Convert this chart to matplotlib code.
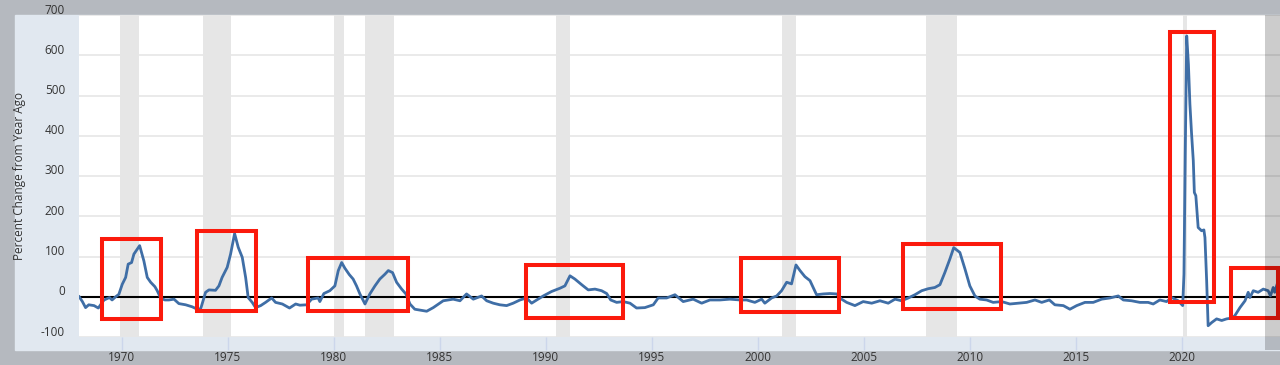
import matplotlib
matplotlib.use('Agg')
import matplotlib.pyplot as plt
from matplotlib.patches import Rectangle

plt.rcParams['font.family'] = ['Open Sans', 'DejaVu Sans']

# series (decimal year, percent change from year ago)
years = [1968.00, 1968.15, 1968.30, 1968.45, 1968.70, 1968.90, 1969.17, 1969.43, 1969.55, 1969.72,
         1969.87, 1970.03, 1970.19, 1970.31, 1970.47, 1970.58, 1970.85, 1971.05, 1971.21, 1971.37,
         1971.57, 1971.68, 1971.84, 1972.04, 1972.23, 1972.47, 1972.70, 1973.02, 1973.33, 1973.57,
         1973.73, 1973.96, 1974.12, 1974.43, 1974.59, 1974.74, 1974.98, 1975.14, 1975.33, 1975.50,
         1975.69, 1975.85, 1975.97, 1976.16, 1976.32, 1976.56, 1976.79, 1977.08, 1977.26, 1977.58,
         1977.92, 1978.21, 1978.41, 1978.73, 1978.96, 1979.27, 1979.35, 1979.54, 1979.82, 1980.06,
         1980.22, 1980.38, 1980.53, 1980.74, 1980.92, 1981.08, 1981.24, 1981.48, 1981.71, 1981.95,
         1982.18, 1982.42, 1982.58, 1982.78, 1982.97, 1983.21, 1983.41, 1983.60, 1983.83, 1984.39,
         1984.70, 1985.17, 1985.64, 1985.96, 1986.27, 1986.59, 1986.98, 1987.22, 1987.53, 1987.84,
         1988.16, 1988.47, 1988.79, 1989.10, 1989.34, 1989.58, 1989.89, 1990.28, 1990.67, 1990.91,
         1991.15, 1991.38, 1991.70, 1992.01, 1992.33, 1992.64, 1992.88, 1993.07, 1993.35, 1993.66,
         1993.98, 1994.29, 1994.68, 1995.08, 1995.31, 1995.71, 1996.10, 1996.49, 1996.96, 1997.36,
         1997.75, 1998.22, 1998.69, 1999.17, 1999.48, 1999.87, 2000.19, 2000.34, 2000.66, 2000.90,
         2001.13, 2001.37, 2001.60, 2001.81, 2002.00, 2002.23, 2002.47, 2002.62, 2002.78, 2003.10,
         2003.41, 2003.73, 2003.96, 2004.20, 2004.59, 2004.98, 2005.38, 2005.77, 2006.16, 2006.48,
         2006.79, 2007.11, 2007.42, 2007.74, 2008.05, 2008.36, 2008.60, 2008.83, 2009.07, 2009.25,
         2009.54, 2009.78, 2010.01, 2010.25, 2010.48, 2010.80, 2011.11, 2011.51, 2011.90, 2012.29,
         2012.69, 2013.08, 2013.40, 2013.76, 2014.02, 2014.42, 2014.73, 2015.05, 2015.44, 2015.83,
         2016.23, 2016.62, 2017.01, 2017.25, 2017.64, 2018.03, 2018.42, 2018.66, 2018.97, 2019.29,
         2019.53, 2019.84, 2020.05, 2020.11, 2020.17, 2020.24, 2020.32, 2020.39, 2020.47, 2020.55,
         2020.60, 2020.67, 2020.78, 2020.94, 2021.05, 2021.10, 2021.18, 2021.25, 2021.42, 2021.65,
         2021.89, 2022.12, 2022.36, 2022.51, 2022.75, 2022.99, 2023.14, 2023.22, 2023.38, 2023.61,
         2023.85, 2024.08, 2024.19, 2024.32, 2024.39, 2024.51, 2024.63]
pct_change = [0, -12, -27, -20, -22, -28, -8, -2, -8, 0,
              6, 31, 48, 81, 85, 106, 127, 89, 48, 36,
              25, 15, -3, -8, -8, -6, -17, -20, -25, -31,
              -30, 11, 17, 16, 27, 48, 73, 106, 157, 123,
              98, 48, -2, -14, -27, -22, -14, -3, -14, -18,
              -28, -18, -21, -20, -6, -3, -12, 8, 15, 27,
              65, 85, 71, 55, 44, 27, 7, -18, 7, 27,
              44, 56, 65, 60, 36, 19, 7, -18, -31, -36,
              -27, -10, -6, -10, 7, -6, 2, -10, -16, -20,
              -22, -16, -8, -3, -16, -8, 2, 13, 21, 27,
              52, 44, 30, 17, 19, 15, 8, -8, -14, -12,
              -16, -28, -27, -20, -3, -3, 5, -12, -6, -16,
              -8, -8, -6, -8, -8, -14, -6, -16, -3, 2,
              15, 36, 32, 79, 65, 50, 40, 23, 5, 7,
              8, 7, -6, -14, -22, -12, -16, -10, -16, -6,
              -10, -3, 5, 15, 20, 23, 30, 60, 94, 122,
              110, 69, 27, 2, -6, -8, -14, -12, -18, -16,
              -14, -8, -14, -8, -20, -22, -31, -22, -14, -14,
              -6, -3, 2, -8, -10, -14, -14, -18, -8, -12,
              -2, -10, -22, 56, 355, 648, 578, 479, 404, 338,
              259, 251, 172, 164, 166, 147, 40, -72, -64, -55,
              -59, -55, -53, -47, -27, -10, 11, -2, 15, 11,
              19, 15, 2, 23, 11, 32, 25]

rec_start = [1969.92, 1973.83, 1980.0, 1981.5, 1990.5, 2001.17, 2007.92, 2020.08]
rec_end = [1970.83, 1975.17, 1980.5, 1982.83, 1991.17, 2001.83, 2009.42, 2020.25]

# red highlight boxes: year from/to, value from/to
box_x0 = [1969.07, 1973.55, 1978.79, 1989.07, 1999.20, 2006.85, 2019.45, 2022.33]
box_x1 = [1971.85, 1976.33, 1983.50, 1993.65, 2003.83, 2011.47, 2021.53, 2024.55]
box_y0 = [-55, -35, -35, -52, -37, -30, -14, -52]
box_y1 = [144, 164, 97, 80, 97, 132, 658, 72]

xticks = list(range(1970, 2021, 5))
yticks = list(range(-100, 701, 100))

W, H = 1280, 365
fig = plt.figure(figsize=(W / 100, H / 100), dpi=100, facecolor='#b5b9bf')
fig.add_artist(Rectangle((15 / W, 15 / H), 1265 / W, 335 / H, transform=fig.transFigure,
                         color='#e1e8f0', zorder=-10))

ax = fig.add_axes([79 / W, 28 / H, 1201 / W, 322 / H])
ax.set_facecolor('white')
for s in ax.spines.values():
	s.set_visible(False)

ax.set_xlim(1967.99, 2024.64)
ax.set_ylim(-100, 700)

ax.set_yticks(yticks)
ax.set_yticklabels([])
ax.tick_params(axis='y', length=0)
ax.yaxis.grid(True, color='#e6e6e6', lw=1.2, zorder=0)
ax.set_axisbelow(True)
for v in yticks:
	ax.annotate(str(v), xy=(0, v), xycoords=('axes fraction', 'data'), xytext=(-10, 3.6),
	            textcoords='offset points', ha='right', va='center', fontsize=8.5,
	            color='#333333', annotation_clip=False)

ax.set_xticks(xticks)
ax.set_xticklabels([str(x) for x in xticks])
ax.tick_params(axis='x', length=9.4, width=1, color='#ccd6eb', pad=0.5,
               labelsize=8.5, labelcolor='#333333')

for s, e in zip(rec_start, rec_end):
	ax.axvspan(s, e, color='#e6e6e6', lw=0, zorder=0.5)

ax.axhline(0, color='black', lw=1.5, zorder=2)
ax.plot(years, pct_change, color='#3f6ea6', lw=2.0, zorder=3)

for x0, x1, y0, y1 in zip(box_x0, box_x1, box_y0, box_y1):
	ax.add_patch(Rectangle((x0, y0), x1 - x0, y1 - y0, fill=False, ec='#fb1a0c',
	                       lw=2.9, zorder=5, clip_on=False))

fig.text(20 / W, 1 - 176 / H, 'Percent Change from Year Ago', rotation=90,
         ha='center', va='center', fontsize=8.5, color='#333333')

# darker strip over the right edge of the screenshot
fig.add_artist(Rectangle((1265 / W, 15 / H), 15 / W, 335 / H, transform=fig.transFigure,
                         color='black', alpha=0.2, lw=0, zorder=10))

fig.savefig('out.png', dpi=100, facecolor=fig.get_facecolor())
